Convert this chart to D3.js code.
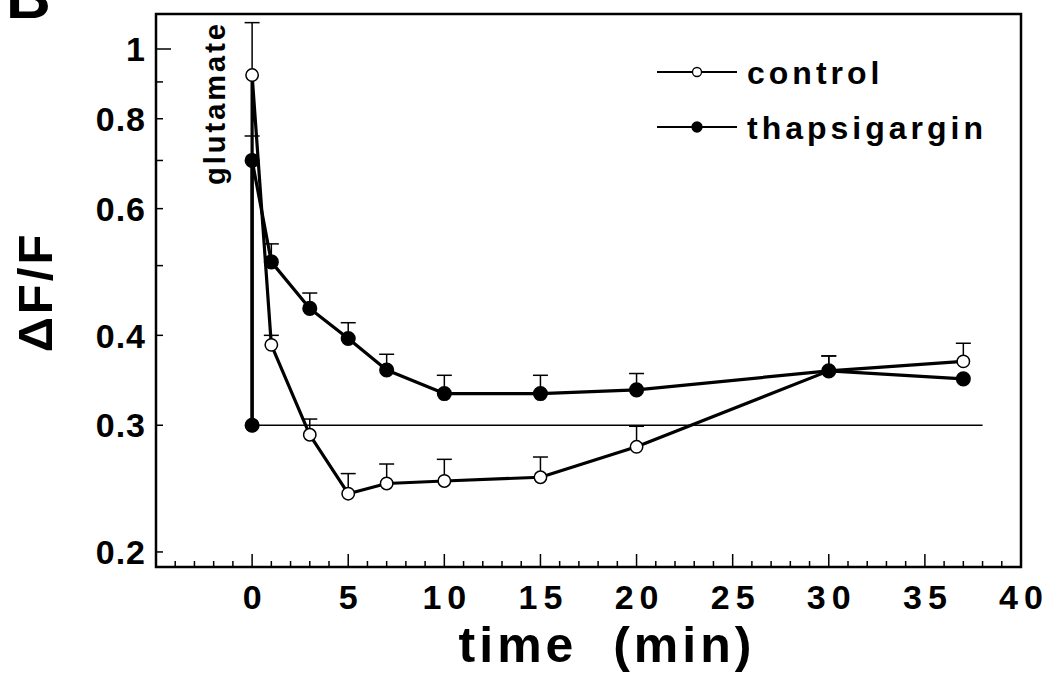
<!DOCTYPE html>
<html>
<head>
<meta charset="utf-8">
<script src="https://cdn.jsdelivr.net/npm/d3@7"></script>
<style>
  html, body { margin: 0; padding: 0; background: #fff; }
  svg { display: block; }
  text { font-family: "Liberation Sans", Arial, Helvetica, sans-serif; font-weight: bold; fill: #000; }
</style>
</head>
<body>
<svg id="chart" width="1049" height="677"></svg>
<script>
// Time points (min); the first entry is the pre-stimulus baseline at t = 0
const controlTime = [0, 0, 1, 3, 5, 7, 10, 15, 20, 30, 37];
const controlMean = [0.30, 0.92, 0.388, 0.291, 0.241, 0.249, 0.251, 0.254, 0.280, 0.357, 0.368];
const controlUpper = [null, 1.088, 0.40, 0.306, 0.257, 0.265, 0.269, 0.271, 0.299, 0.3745, 0.39];

const thapTime = [0, 0, 1, 3, 5, 7, 10, 15, 20, 30, 37];
const thapMean = [0.30, 0.70, 0.506, 0.436, 0.396, 0.358, 0.332, 0.332, 0.336, 0.357, 0.348];
const thapUpper = [null, 0.757, 0.536, 0.458, 0.4165, 0.3765, 0.352, 0.352, 0.354, 0.3745, null];

const baselineValue = 0.3;
const baselineEnd = 38;

const xTickValues = [0, 5, 10, 15, 20, 25, 30, 35, 40];
const yTickValues = [0.2, 0.3, 0.4, 0.5, 0.6, 0.7, 0.8, 0.9, 1];
const yTickLabels = ["0.2", "0.3", "0.4", "", "0.6", "", "0.8", "", "1"];

const seriesNames = ["control", "thapsigargin"];

const svg = d3.select("#chart");

const frame = { left: 156, right: 1021, top: 14, bottom: 567 };

const x = d3.scaleLinear().domain([-5, 40]).range([frame.left, frame.right]);
const y = d3.scaleLog().domain([0.1906, 1.1185]).range([frame.bottom, frame.top]);

// panel letter (top of the glyph runs past the page edge)
svg.append("text").attr("x", 6).attr("y", 18)
  .attr("font-size", 62).text("B");

// plot frame
svg.append("rect")
  .attr("x", frame.left).attr("y", frame.top)
  .attr("width", frame.right - frame.left).attr("height", frame.bottom - frame.top)
  .attr("fill", "none").attr("stroke", "#000").attr("stroke-width", 2.5);

// x ticks: minor every minute, major every 5, pointing into the plot
const xMinor = d3.range(-4, 40, 1);
svg.append("g").selectAll("line").data(xMinor).join("line")
  .attr("x1", d => x(d)).attr("x2", d => x(d))
  .attr("y1", frame.bottom).attr("y2", d => frame.bottom - (d % 5 === 0 ? 13 : 6))
  .attr("stroke", "#000").attr("stroke-width", 1.5);

svg.append("g").selectAll("text").data(xTickValues).join("text")
  .attr("x", d => x(d) + 3).attr("y", 609)
  .attr("text-anchor", "middle").attr("font-size", 34)
  .attr("letter-spacing", 6)
  .text(d => d);

// y ticks on the log axis
svg.append("g").selectAll("line").data(yTickValues).join("line")
  .attr("x1", frame.left).attr("x2", d => frame.left + (d === 1 ? 15 : 7))
  .attr("y1", d => y(d)).attr("y2", d => y(d))
  .attr("stroke", "#000").attr("stroke-width", 1.5);

svg.append("g").selectAll("text").data(yTickValues).join("text")
  .attr("x", 146).attr("y", d => y(d))
  .attr("dy", "0.36em")
  .attr("text-anchor", "end").attr("font-size", 34)
  .attr("letter-spacing", 1)
  .text((d, i) => yTickLabels[i]);

// axis titles
svg.append("text")
  .attr("transform", "translate(52,292) rotate(-90)")
  .attr("text-anchor", "middle").attr("font-size", 49)
  .attr("letter-spacing", 3)
  .text("\u0394F/F");

svg.append("text")
  .attr("x", 607).attr("y", 662)
  .attr("text-anchor", "middle").attr("font-size", 50)
  .attr("letter-spacing", 4)
  .style("white-space", "pre")
  .text("time  (min)");

// stimulus annotation
svg.append("text")
  .attr("transform", "translate(225,103) rotate(-90)")
  .attr("text-anchor", "middle").attr("font-size", 29)
  .attr("letter-spacing", 3)
  .text("glutamate");

// baseline reference line
svg.append("line")
  .attr("x1", x(0)).attr("x2", x(baselineEnd))
  .attr("y1", y(baselineValue)).attr("y2", y(baselineValue))
  .attr("stroke", "#000").attr("stroke-width", 1.4);

function drawSeries(times, means, uppers, filled) {
  const pts = times.map((t, i) => ({ t, m: means[i], u: uppers[i] }));
  const g = svg.append("g");
  // upper error bars with caps
  const eb = pts.filter(p => p.u != null);
  g.selectAll("line.err").data(eb).join("line")
    .attr("x1", p => x(p.t)).attr("x2", p => x(p.t))
    .attr("y1", p => y(p.m)).attr("y2", p => y(p.u))
    .attr("stroke", "#000").attr("stroke-width", 1.5);
  g.selectAll("line.cap").data(eb).join("line")
    .attr("x1", p => x(p.t) - 7.5).attr("x2", p => x(p.t) + 7.5)
    .attr("y1", p => y(p.u)).attr("y2", p => y(p.u))
    .attr("stroke", "#000").attr("stroke-width", 1.5);
  // connecting line
  g.append("path")
    .attr("d", d3.line().x(p => x(p.t)).y(p => y(p.m))(pts))
    .attr("fill", "none").attr("stroke", "#000").attr("stroke-width", 3.2)
    .attr("stroke-linejoin", "round");
  // markers
  g.selectAll("circle").data(pts).join("circle")
    .attr("cx", p => x(p.t)).attr("cy", p => y(p.m))
    .attr("r", filled ? 6.8 : 6.2)
    .attr("fill", filled ? "#000" : "#fff")
    .attr("stroke", "#000").attr("stroke-width", 1.5);
}

drawSeries(controlTime, controlMean, controlUpper, false);
drawSeries(thapTime, thapMean, thapUpper, true);

// legend
const legendRows = [
  { name: seriesNames[0], filled: false, cy: 72 },
  { name: seriesNames[1], filled: true, cy: 127 }
];
const lg = svg.append("g");
legendRows.forEach(r => {
  lg.append("line").attr("x1", 657).attr("x2", 737)
    .attr("y1", r.cy).attr("y2", r.cy)
    .attr("stroke", "#000").attr("stroke-width", 2);
  lg.append("circle").attr("cx", 697).attr("cy", r.cy)
    .attr("r", r.filled ? 5 : 4.5)
    .attr("fill", r.filled ? "#000" : "#fff")
    .attr("stroke", "#000").attr("stroke-width", 1.3);
  lg.append("text").attr("x", 747).attr("y", r.cy + 12)
    .attr("font-size", 32).attr("letter-spacing", 4)
    .text(r.name);
});
</script>
</body>
</html>
